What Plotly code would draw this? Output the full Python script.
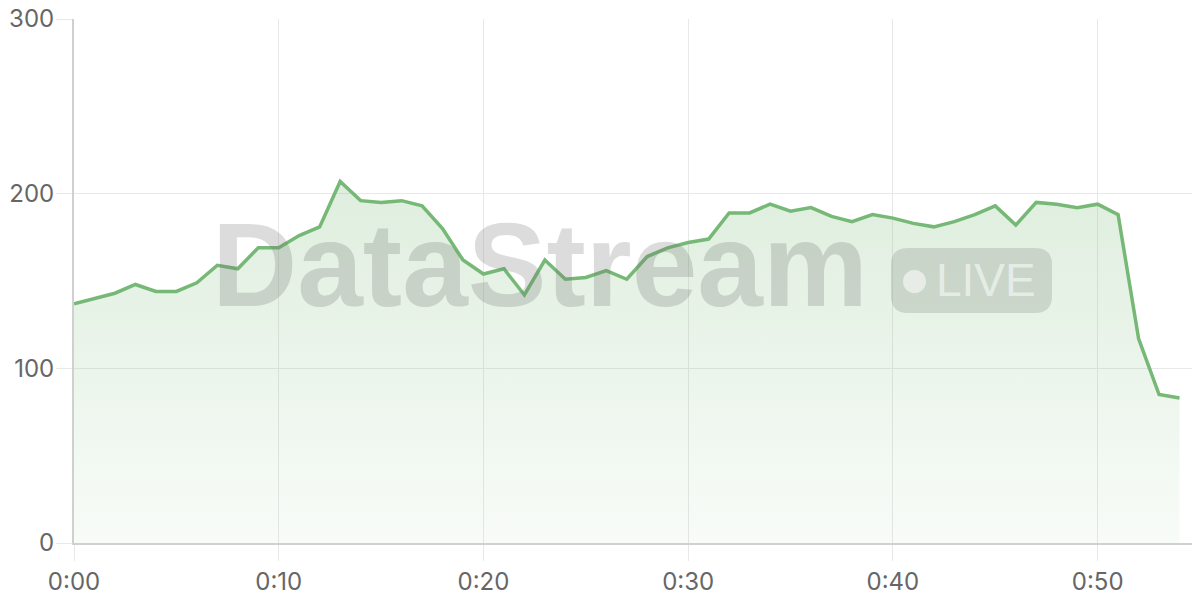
import plotly.graph_objects as go

minutes = list(range(0, 55))
values = [137, 140, 143, 148, 144, 144, 149, 159, 157, 169,
          169, 176, 181, 207, 196, 195, 196, 193, 180, 162,
          154, 157, 142, 162, 151, 152, 156, 151, 164, 169,
          172, 174, 189, 189, 194, 190, 192, 187, 184, 188,
          186, 183, 181, 184, 188, 193, 182, 195, 194, 192,
          194, 188, 117, 85, 83]
tick_vals = [0, 10, 20, 30, 40, 50]
tick_text = ["0:00", "0:10", "0:20", "0:30", "0:40", "0:50"]

LINE = "#76b876"
FONT = "Inter, 'Open Sans', sans-serif"
TICKSIZE = 24

fig = go.Figure()
fig.add_trace(go.Scatter(
    x=minutes, y=values, mode="lines",
    line=dict(color=LINE, width=3.5),
    fill="tozeroy",
    fillgradient=dict(type="vertical",
                      colorscale=[[0, "rgba(118,184,118,0.05)"],
                                  [1, "rgba(118,184,118,0.24)"]]),
    hoverinfo="skip", showlegend=False,
))

# page pixel -> paper (page body has an 8px margin)
W0, W1, H0, H1 = 74, 1200, 19, 543
def px(x):
    return (x - W0) / (W1 - W0)
def py(y):
    return (H1 - y) / (H1 - H0)

# badge (rounded rect)
bx0, bx1, by0, by1, r = 891, 1052, 248, 313, 17
path = (f"M {px(bx0+r)} {py(by0)} L {px(bx1-r)} {py(by0)} "
        f"Q {px(bx1)} {py(by0)} {px(bx1)} {py(by0+r)} "
        f"L {px(bx1)} {py(by1-r)} Q {px(bx1)} {py(by1)} {px(bx1-r)} {py(by1)} "
        f"L {px(bx0+r)} {py(by1)} Q {px(bx0)} {py(by1)} {px(bx0)} {py(by1-r)} "
        f"L {px(bx0)} {py(by0+r)} Q {px(bx0)} {py(by0)} {px(bx0+r)} {py(by0)} Z")
shapes = [
    dict(type="path", xref="paper", yref="paper", path=path,
         fillcolor="rgba(120,130,120,0.25)", line=dict(width=0), layer="above"),
    dict(type="circle", xref="paper", yref="paper",
         x0=px(903), x1=px(926), y0=py(270), y1=py(293),
         fillcolor="rgba(255,255,255,0.55)", line=dict(width=0), layer="above"),
]

annotations = [
    dict(text="<b>DataStream</b>", xref="paper", yref="paper",
         x=px(540), y=py(265), xanchor="center", yanchor="middle",
         showarrow=False, font=dict(family="Liberation Sans, Arial, sans-serif",
                                    size=118, color="rgba(110,115,110,0.25)")),
    dict(text="LIVE", xref="paper", yref="paper",
         x=px(986), y=py(280), xanchor="center", yanchor="middle",
         showarrow=False, font=dict(family="Liberation Sans, Arial, sans-serif",
                                    size=46, color="rgba(255,255,255,0.55)")),
]

axis_common = dict(
    automargin=False, ticklabeloverflow="allow",
    showgrid=True, gridcolor="#e8e8e8", gridwidth=1,
    showline=True, linecolor="#d0d0d0", linewidth=2,
    ticks="outside", ticklen=16, tickcolor="#e8e8e8", tickwidth=1,
    zeroline=False, tickfont=dict(size=TICKSIZE, color="#666666"),
)

fig.update_layout(
    width=1192, height=592,
    margin=dict(l=66, r=0, t=11, b=57),
    paper_bgcolor="white", plot_bgcolor="white",
    font=dict(family=FONT, size=TICKSIZE, color="#666666"),
    shapes=shapes, annotations=annotations,
    xaxis=dict(range=[0, 55], tickvals=tick_vals, ticktext=tick_text, **axis_common),
    yaxis=dict(range=[0, 300], tickvals=[0, 100, 200, 300],
               ticklabelstandoff=-3, **axis_common),
)

fig.write_html("out.html")
